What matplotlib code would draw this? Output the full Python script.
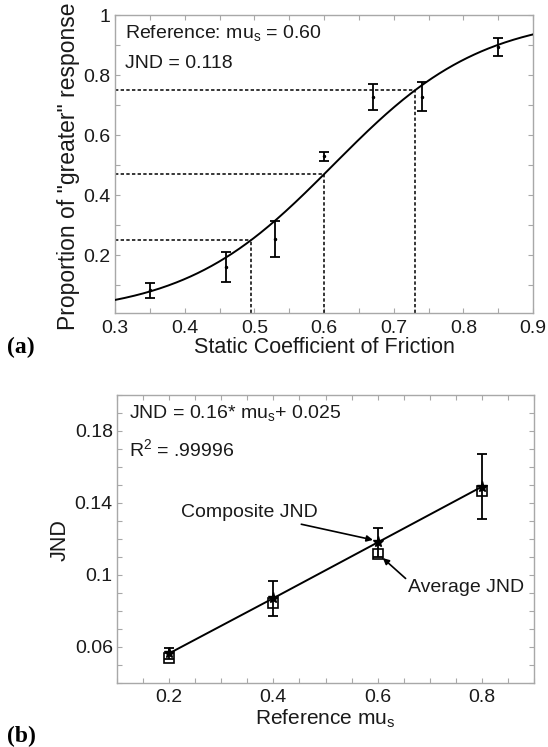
import numpy as np
import matplotlib
matplotlib.use('Agg')
import matplotlib.pyplot as plt
from matplotlib.ticker import MultipleLocator, FixedLocator, FormatStrFormatter

# ---------------- Panel (a) data ----------------
stim_mu = [0.35, 0.46, 0.53, 0.60, 0.67, 0.74, 0.85]
prop_greater = [0.083, 0.160, 0.253, 0.530, 0.726, 0.728, 0.894]
prop_err = [0.024, 0.050, 0.060, 0.015, 0.043, 0.048, 0.029]
ref_mu = 0.60
pse = 0.613          # 50 % point of fitted logistic
jnd_a = 0.118        # JND of fit (x75 - x50)

# ---------------- Panel (b) data ----------------
ref_levels = [0.2, 0.4, 0.6, 0.8]
composite_jnd = [0.0563, 0.087, 0.118, 0.149]
composite_err = [0.003, 0.0098, 0.0083, 0.018]
average_jnd = [0.0539, 0.0843, 0.1115, 0.1468]

plt.rcParams['font.family'] = ['Liberation Sans', 'DejaVu Sans']
plt.rcParams['mathtext.fontset'] = 'custom'
plt.rcParams['mathtext.rm'] = 'Liberation Sans'
plt.rcParams['mathtext.it'] = 'Liberation Sans'

W, H = 548, 747
fig = plt.figure(figsize=(W / 100, H / 100), dpi=100)

SPINE = '#a8a8a8'
TXT = '#1a1a1a'


def style(ax):
    for s in ax.spines.values():
        s.set_color(SPINE)
        s.set_linewidth(1.0)
    ax.tick_params(which='both', direction='in', top=True, right=True,
                   length=3.5, width=0.8, color=SPINE, labelsize=14,
                   labelcolor=TXT)


# ================= Panel (a) =================
ax1 = fig.add_axes([115 / W, 1 - 313.3 / H, 418 / W, 298.3 / H])
style(ax1)
ax1.set_xlim(0.3, 0.9)
ax1.set_ylim(0.007, 1.0)
ax1.xaxis.set_major_locator(MultipleLocator(0.1))
ax1.xaxis.set_minor_locator(MultipleLocator(0.05))
ax1.yaxis.set_major_locator(FixedLocator([0.2, 0.4, 0.6, 0.8, 1.0]))
ax1.yaxis.set_minor_locator(MultipleLocator(0.1))
ax1.xaxis.set_major_formatter(FormatStrFormatter('%g'))
ax1.yaxis.set_major_formatter(FormatStrFormatter('%g'))
ax1.tick_params(axis='x', pad=5)
ax1.tick_params(axis='y', pad=3)

s = jnd_a / np.log(3.0)
xc = np.linspace(0.3, 0.9, 300)
ax1.plot(xc, 1.0 / (1.0 + np.exp(-(xc - pse) / s)), color='black', lw=1.4, zorder=3)

x25 = pse - jnd_a
x75 = pse + jnd_a
p_ref = 1.0 / (1.0 + np.exp(-(ref_mu - pse) / s))
for xx, pp in [(x25, 0.25), (ref_mu, p_ref), (x75, 0.75)]:
    ax1.plot([0.3, xx], [pp, pp], color='black', lw=1.1, ls=(0, (2.2, 1.5)), zorder=2)
    ax1.plot([xx, xx], [0.007, pp], color='black', lw=1.1, ls=(0, (2.2, 1.5)), zorder=2)

ax1.errorbar(stim_mu, prop_greater, yerr=prop_err, fmt='.', color='black',
             ms=3, elinewidth=1.3, capsize=3.5, capthick=1.3, zorder=4)

ax1.text(0.024, 0.94, 'Reference: mu$_s$ = 0.60', transform=ax1.transAxes,
         fontsize=14, va='center', ha='left', color=TXT)
ax1.text(0.024, 0.839, 'JND = 0.118', transform=ax1.transAxes,
         fontsize=14, va='center', ha='left', color=TXT)

fig.text(324 / W, 1 - 353 / H, 'Static Coefficient of Friction', fontsize=15.5,
         ha='center', va='baseline', color=TXT)
fig.text(69 / W, 1 - 166 / H, 'Proportion of "greater" response', fontsize=16.5,
         ha='center', va='center', rotation=90, color=TXT)
fig.text(7 / W, 1 - 347 / H, '(a)', fontsize=17, fontweight='bold',
         family='Liberation Serif', ha='left', va='center')

# ================= Panel (b) =================
ax2 = fig.add_axes([117 / W, 1 - 682.7 / H, 417 / W, 287.7 / H])
style(ax2)
ax2.set_xlim(0.1, 0.9)
ax2.set_ylim(0.04, 0.2)
ax2.xaxis.set_major_locator(FixedLocator([0.2, 0.4, 0.6, 0.8]))
ax2.xaxis.set_minor_locator(MultipleLocator(0.05))
ax2.yaxis.set_major_locator(FixedLocator([0.06, 0.10, 0.14, 0.18]))
ax2.yaxis.set_minor_locator(MultipleLocator(0.01))
ax2.xaxis.set_major_formatter(FormatStrFormatter('%g'))
ax2.yaxis.set_major_formatter(FormatStrFormatter('%g'))
ax2.tick_params(axis='x', pad=4.5)
ax2.tick_params(axis='y', pad=3)

ax2.errorbar(ref_levels, composite_jnd, yerr=composite_err, fmt='-*', color='black',
             ms=8, lw=1.4, elinewidth=1.3, capsize=3.5, capthick=1.3, zorder=3)
ax2.plot(ref_levels, average_jnd, ls='none', marker='s', ms=6.5, mfc='none',
         mec='black', mew=1.2, zorder=4)

ax2.text(0.029, 0.9375, 'JND = 0.16* mu$_s$+ 0.025', transform=ax2.transAxes,
         fontsize=14, va='center', ha='left', color=TXT)
ax2.text(0.029, 0.812, 'R$^2$ = .99996', transform=ax2.transAxes,
         fontsize=14, va='center', ha='left', color=TXT)

ax2.annotate('Composite JND', xy=(0.591, 0.1194), xytext=(0.486, 0.1344),
             ha='right', va='center', fontsize=14, color=TXT,
             arrowprops=dict(arrowstyle='-|>', color='black', lw=1.2,
                             shrinkA=0, shrinkB=0, mutation_scale=9))
ax2.annotate('Average JND', xy=(0.610, 0.1093), xytext=(0.659, 0.0928),
             ha='left', va='center', fontsize=14, color=TXT,
             arrowprops=dict(arrowstyle='-|>', color='black', lw=1.2,
                             shrinkA=0, shrinkB=0, mutation_scale=9,
                             relpos=(0.0, 0.9)))

fig.text(325.5 / W, 1 - 725 / H, 'Reference mu$_s$', fontsize=15,
         ha='center', va='baseline', color=TXT)
fig.text(60 / W, 1 - 540 / H, 'JND', fontsize=15.5,
         ha='center', va='center', rotation=90, color=TXT)
fig.text(7 / W, 1 - 736 / H, '(b)', fontsize=17, fontweight='bold',
         family='Liberation Serif', ha='left', va='center')

fig.savefig('out.png', dpi=100, facecolor='white')
